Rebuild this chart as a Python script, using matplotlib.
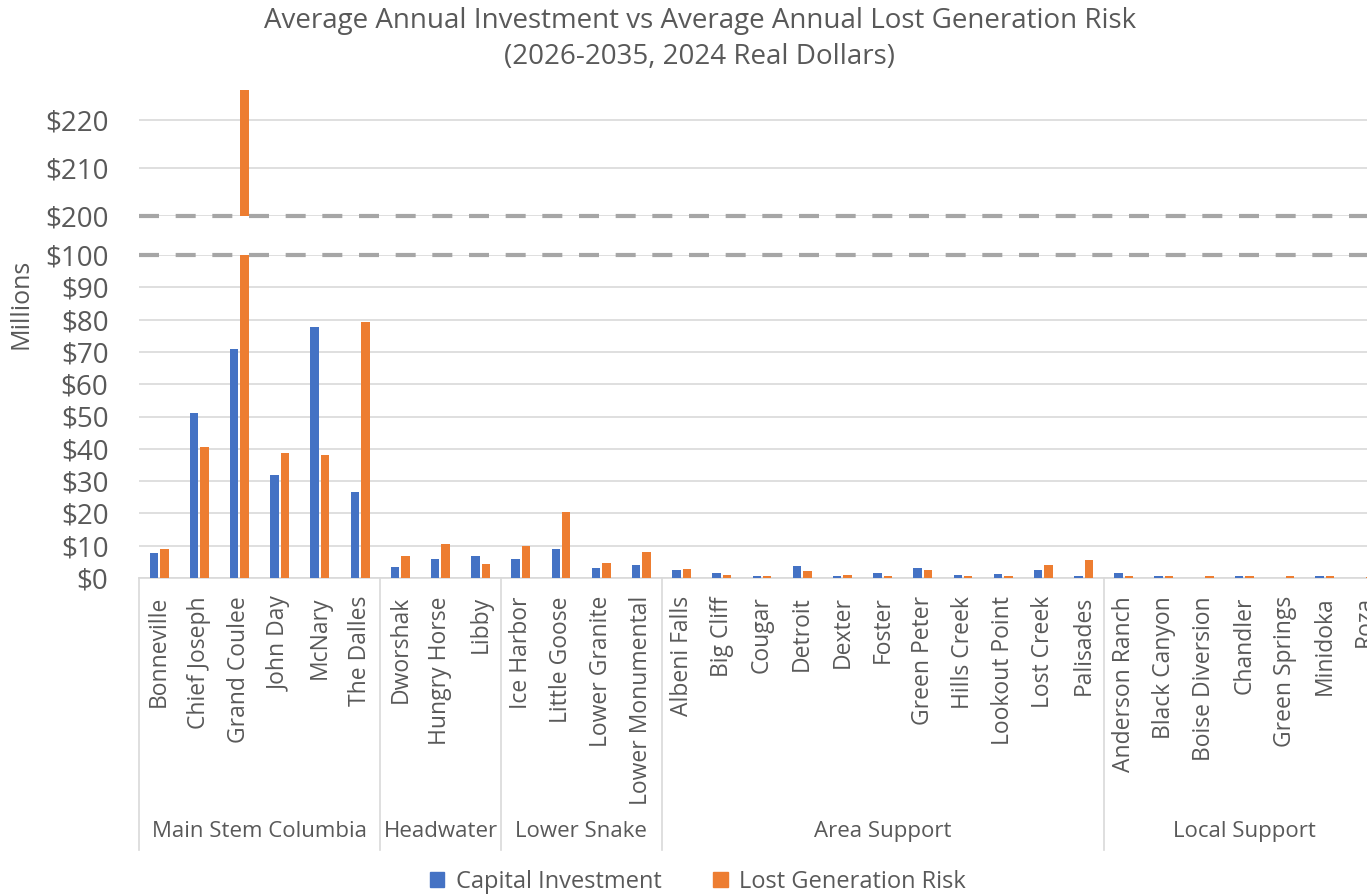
import numpy as np
import matplotlib
matplotlib.use("Agg")
import matplotlib.pyplot as plt

plt.rcParams['font.family'] = ['Open Sans', 'DejaVu Sans']

plants = ['Bonneville', 'Chief Joseph', 'Grand Coulee', 'John Day', 'McNary', 'The Dalles',
          'Dworshak', 'Hungry Horse', 'Libby',
          'Ice Harbor', 'Little Goose', 'Lower Granite', 'Lower Monumental',
          'Albeni Falls', 'Big Cliff', 'Cougar', 'Detroit', 'Dexter', 'Foster', 'Green Peter',
          'Hills Creek', 'Lookout Point', 'Lost Creek', 'Palisades',
          'Anderson Ranch', 'Black Canyon', 'Boise Diversion', 'Chandler', 'Green Springs',
          'Minidoka', 'Roza']
groups = ['Main Stem Columbia', 'Headwater', 'Lower Snake', 'Area Support', 'Local Support']
group_sizes = [6, 3, 4, 11, 7]

capital = [7.6, 51.0, 70.8, 31.8, 77.8, 26.5,
           3.5, 6.0, 6.8,
           6.0, 8.9, 3.2, 4.1,
           2.5, 1.4, 0.6, 3.7, 0.6, 1.7, 3.2, 0.8, 1.3, 2.5, 0.6,
           1.7, 0.5, 0.1, 0.5, 0.1, 0.5, 0.1]
lost_gen = [8.9, 40.5, 226.3, 38.7, 38.0, 79.4,
            6.8, 10.4, 4.3,
            10.0, 20.3, 4.5, 8.1,
            2.9, 0.9, 0.6, 2.1, 1.0, 0.6, 2.5, 0.5, 0.5, 4.1, 5.6,
            0.5, 0.5, 0.5, 0.5, 0.5, 0.5, 0.4]

blue = '#4472C4'
orange = '#ED7D31'
txt = '#595959'
grid = '#D9D9D9'

W, H = 1367, 896
fig = plt.figure(figsize=(W / 100, H / 100), dpi=100)

left = 139 / W
width = 1246 / W
ax_top = fig.add_axes([left, 1 - 216 / H, width, 128 / H])
ax_bot = fig.add_axes([left, 1 - 578 / H, width, 323 / H])

x = np.arange(len(plants))
bw = 0.21
for ax in (ax_top, ax_bot):
    ax.bar(x - 0.13, capital, bw, color=blue, zorder=3)
    ax.bar(x + 0.13, lost_gen, bw, color=orange, zorder=3)
    ax.set_xlim(-0.5, len(plants) - 0.5)
    for s in ax.spines.values():
        s.set_visible(False)
    ax.grid(axis='y', color=grid, lw=1.2, zorder=0)
    ax.tick_params(axis='y', length=0, pad=22, labelsize=20, labelcolor=txt)

ax_top.set_ylim(200, 226.7)
ax_top.set_yticks([200, 210, 220])
ax_top.set_yticklabels(['$200', '$210', '$220'])
ax_top.set_xticks([])

ax_bot.set_ylim(0, 100)
ax_bot.set_yticks(range(0, 101, 10))
ax_bot.set_yticklabels(['$%d' % v for v in range(0, 101, 10)])
ax_bot.set_xticks(x)
ax_bot.set_xticklabels(plants, rotation=90, va='top', ha='center', fontsize=16.5, color=txt)
ax_bot.tick_params(axis='x', length=0, pad=13)
ax_bot.spines['bottom'].set_visible(True)
ax_bot.spines['bottom'].set_color(grid)
ax_bot.spines['bottom'].set_linewidth(1.2)

# broken-axis dashed markers
ax_top.axhline(200, color='#A6A6A6', lw=3, dashes=(4.8, 4.0), zorder=4, clip_on=False)
ax_bot.axhline(100, color='#A6A6A6', lw=3, dashes=(4.8, 4.0), zorder=4, clip_on=False)

# group separators and labels
trans = ax_bot.get_xaxis_transform()
depth = -(850 - 578) / 323
edges = np.concatenate([[0], np.cumsum(group_sizes)]) - 0.5
for e in edges:
    ax_bot.plot([e, e], [0, depth], color=grid, lw=1.2, transform=trans, clip_on=False)
for g, a, b in zip(groups, edges[:-1], edges[1:]):
    ax_bot.text((a + b) / 2, -(831 - 578) / 323, g, transform=trans, ha='center', va='center',
                fontsize=16, color=txt)

fig.text(21 / W, 1 - 304 / H, 'Millions', rotation=90, ha='center', va='center',
         fontsize=18, color=txt)
fig.text(700 / W, 1 - 39 / H,
         'Average Annual Investment vs Average Annual Lost Generation Risk\n(2026-2035, 2024 Real Dollars)',
         ha='center', va='center', fontsize=20, color=txt, linespacing=1.35)

handles = [plt.Rectangle((0, 0), 1, 1, color=blue), plt.Rectangle((0, 0), 1, 1, color=orange)]
fig.legend(handles, ['Capital Investment', 'Lost Generation Risk'], loc='center',
           bbox_to_anchor=(698 / W, 1 - 882 / H), ncol=2, frameon=False, fontsize=17,
           labelcolor=txt, handlelength=0.6, handleheight=0.6, columnspacing=2.2, handletextpad=0.5)

fig.savefig('out.png', dpi=100)
